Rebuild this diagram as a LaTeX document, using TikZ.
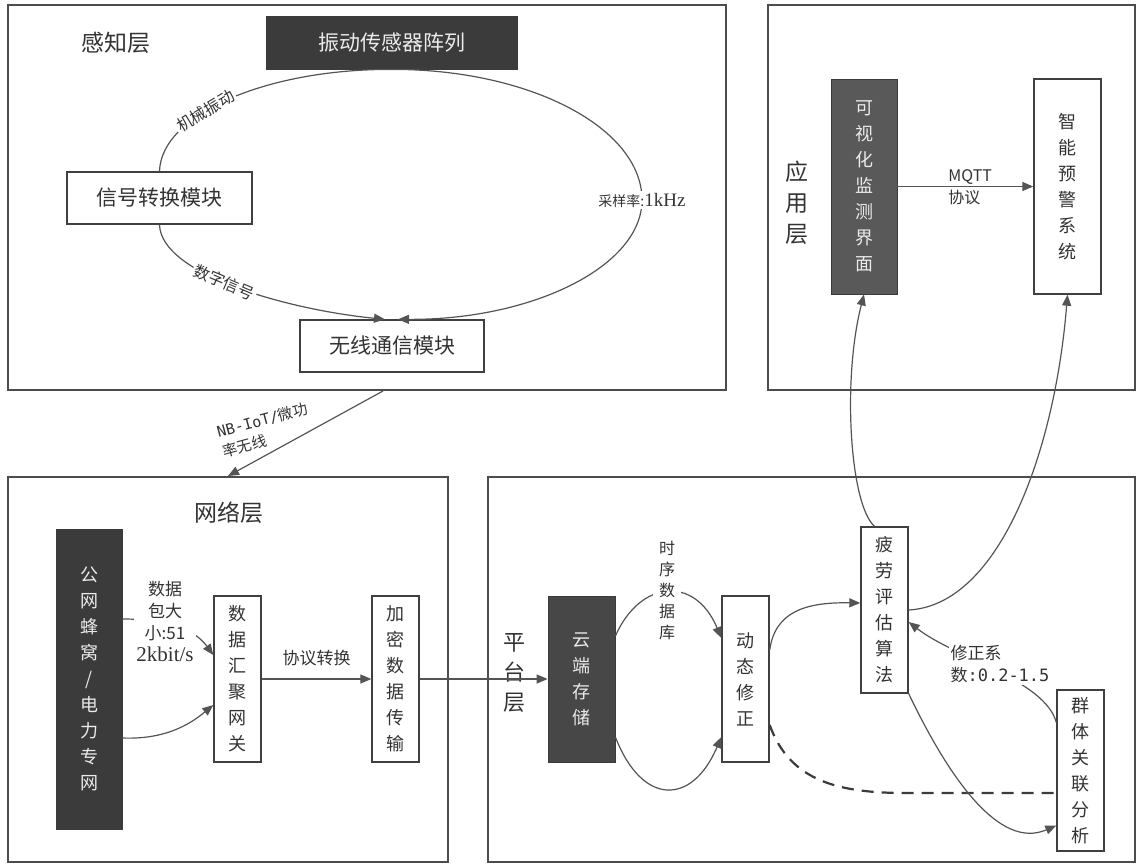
\documentclass[tikz,border=0pt]{standalone}
\usepackage{fontspec}
\setmainfont{Noto Sans CJK SC}
\newfontfamily\latinserif{Liberation Serif}
\newfontfamily\latinmono{DejaVu Sans Mono}
\usetikzlibrary{arrows.meta, calc}
\definecolor{ink}{gray}{0.23}
\definecolor{slate}{gray}{0.35}
\definecolor{cloudgray}{gray}{0.28}
\definecolor{wire}{gray}{0.33}
\definecolor{rim}{gray}{0.30}
\definecolor{txt}{gray}{0.20}

\begin{document}
\begin{tikzpicture}[
  x=0.5pt, y=-0.5pt,
  layerbox/.style={draw=rim, line width=1pt, inner sep=0pt},
  layertitle/.style={font=\fontsize{11.5pt}{15.5pt}\selectfont, text=txt,
                     inner sep=0pt, align=center},
  dark/.style={draw=ink, fill=ink, text=white!92!black, inner sep=0pt},
  lite/.style={draw=black!75, fill=white, text=txt, line width=.7pt, inner sep=0pt},
  htxt/.style={font=\fontsize{10.5pt}{12pt}\selectfont},
  vtxt/.style={align=center, font=\fontsize{9pt}{13pt}\selectfont},
  conn/.style={draw=wire, line width=.6pt, -{Triangle[length=5.5pt,width=4.5pt]}},
  dashln/.style={draw=ink, line width=1.1pt, dash pattern=on 6pt off 4pt},
  tag/.style={font=\fontsize{8pt}{10.5pt}\selectfont, text=txt, inner sep=1pt},
]
\useasboundingbox (0,0) rectangle (1140,867);

% four layers
\node[layerbox, minimum width=359pt, minimum height=192.5pt] (percL) at (367,197.5) {};
\node[layerbox, minimum width=183.5pt, minimum height=192.5pt] (appL) at (951.5,197.5) {};
\node[layerbox, minimum width=220pt, minimum height=192.5pt] (netL) at (228,669.5) {};
\node[layerbox, minimum width=323.5pt, minimum height=192.5pt] (platL) at (811.5,669.5) {};
\node[layertitle] (percT) at (116,43) {感知层};
\node[layertitle] (appT) at (797,203) {应\\用\\层};
\node[layertitle] (netT) at (229,513) {网络层};
\node[layertitle, font=\fontsize{11pt}{15pt}\selectfont] (platT) at (514,673) {平\\台\\层};

% sensing
\node[dark, htxt, minimum width=125.5pt, minimum height=26.5pt] (sensor) at (391.5,42.5)
  {振动传感器阵列};
\node[lite, htxt, minimum width=92.5pt, minimum height=26pt] (sig) at (159.5,198)
  {信号转换模块};
\node[lite, htxt, minimum width=92pt, minimum height=26pt] (wls) at (392,346)
  {无线通信模块};

\draw[wire, line width=.6pt] (sensor.south) .. controls (265,69) and (161,115) .. (sig.north)
  node[tag, fill=white, rotate=31, pos=0.6] {机械振动};
\draw[conn] (sig.south) .. controls (161,275) and (290,310) .. ([xshift=-3.5pt]wls.north)
  node[tag, fill=white, rotate=-23, pos=0.45] {数字信号};
\draw[conn] (sensor.south) .. controls (530,69) and (642,128) .. (642,200)
  node[tag, fill=white, font=\fontsize{7pt}{9pt}\selectfont]
  {采样率:{\latinserif\fontsize{9.5pt}{10pt}\selectfont 1kHz}}
  .. controls (642,266) and (533,320) .. ([xshift=3pt]wls.north);

% application
\node[dark, fill=slate, vtxt, minimum width=33pt, minimum height=107.5pt] (vis) at (864,186.5)
  {可\\视\\化\\监\\测\\界\\面};
\node[lite, vtxt, minimum width=33.5pt, minimum height=107.5pt] (warn) at (1067.5,186.5)
  {智\\能\\预\\警\\系\\统};
\draw[conn] (vis) -- (warn);
\node[tag, anchor=west, align=left, font=\fontsize{8pt}{11pt}\selectfont] (mqttT) at (946,187)
  {MQTT\\协议};

% uplink
\draw[conn] ([xshift=8pt]percL.south) -- (netL.north);
\node[tag, rotate=15, align=left, font=\fontsize{7.5pt}{10.5pt}\selectfont] (nbT) at (265,430)
  {{\latinmono NB-IoT/}微功\\率无线};

% network
\node[dark, vtxt, minimum width=33pt, minimum height=150pt] (pub) at (89,679)
  {公\\网\\蜂\\窝\\/\\电\\力\\专\\网};
\node[lite, vtxt, minimum width=23.5pt, minimum height=83pt] (gw) at (237.5,679)
  {数\\据\\汇\\聚\\网\\关};
\node[lite, vtxt, minimum width=23.5pt, minimum height=83pt] (enc) at (395.5,679)
  {加\\密\\数\\据\\传\\输};

\draw[conn] ($(pub.east)+(0,-60)$) .. controls (170,619) and (195,630) .. ($(gw.west)+(0,-24)$);
\node[tag, fill=white, align=center, font=\fontsize{8.5pt}{11pt}\selectfont] (pktT) at (165,621)
  {数据\\包大\\小:51\\{\latinserif\fontsize{10.5pt}{11pt}\selectfont 2kbit/s}};
\draw[conn] ($(pub.east)+(0,59)$) .. controls (170,740) and (195,720) .. ($(gw.west)+(0,26)$);
\draw[conn] (gw) -- (enc) node[tag, midway, above=5pt, font=\fontsize{8.5pt}{10pt}\selectfont]
  {协议转换};

% platform
\node[dark, fill=cloudgray, vtxt, minimum width=33.5pt, minimum height=83pt] (cloud) at (581.5,679)
  {云\\端\\存\\储};
\node[lite, vtxt, minimum width=23.5pt, minimum height=83pt] (dyn) at (745.5,679)
  {动\\态\\修\\正};
\node[lite, vtxt, minimum width=23.5pt, minimum height=83pt] (fat) at (884.5,610)
  {疲\\劳\\评\\估\\算\\法};
\node[lite, vtxt, minimum width=23.5pt, minimum height=80.5pt] (grp) at (1080.5,770.5)
  {群\\体\\关\\联\\分\\析};

\draw[conn] (enc) -- (cloud);
\draw[conn] ($(cloud.east)+(0,-43)$) .. controls (640,580) and (695,575) .. ($(dyn.west)+(0,-41)$);
\node[tag, fill=white, inner xsep=3pt, align=center] (tsdbT) at (667,590)
  {时\\序\\数\\据\\库};
\draw[conn] ($(cloud.east)+(0,58)$) .. controls (642,806) and (692,806) .. ($(dyn.west)+(0,58)$);
\draw[conn] ($(dyn.east)+(0,-29)$) .. controls (775,612) and (805,602) .. ($(fat.west)+(0,-7)$);
\draw[dashln] ($(dyn.east)+(0,46)$) .. controls (790,782) and (840,793) .. ($(grp.west)+(-150,22.5)$)
  -- ($(grp.west)+(0,22.5)$);
\draw[conn] (fat.south east) .. controls (950,780) and (1000,850) .. ($(grp.west)+(0,55)$);
\draw[conn] ($(grp.west)+(0,-48)$) .. controls (1045,680) and (955,658) .. ($(fat.east)+(0,12)$);
\node[tag, fill=white, align=left, font=\fontsize{8.5pt}{11pt}\selectfont] (coefT) at (1000,664)
  {修正系\\数{\latinmono :0.2-1.5}};
\draw[conn] ($(fat.north)+(-10,0)$) .. controls (850,505) and (842,380) .. (vis.south);
\draw[conn] (fat.east) .. controls (1000,605) and (1055,450) .. (warn.south);
\end{tikzpicture}
\end{document}
